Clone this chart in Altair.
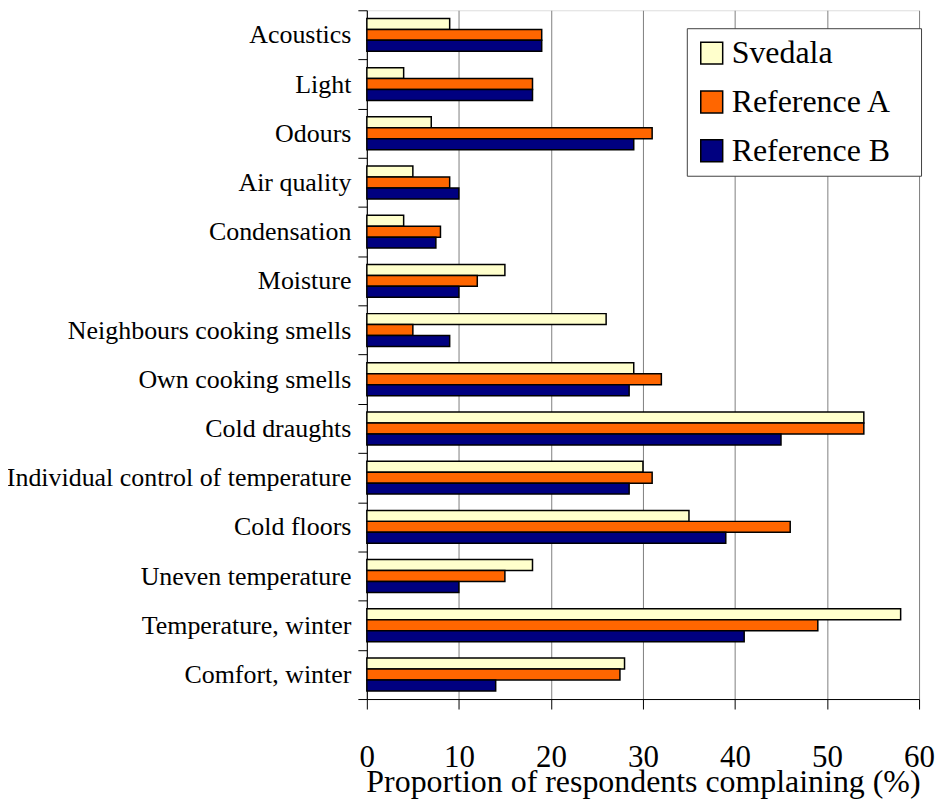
import altair as alt
import pandas as pd

categories = ["Acoustics", "Light", "Odours", "Air quality", "Condensation", "Moisture",
              "Neighbours cooking smells", "Own cooking smells", "Cold draughts",
              "Individual control of temperature", "Cold floors", "Uneven temperature",
              "Temperature, winter", "Comfort, winter"]
series = ["Svedala", "Reference A", "Reference B"]
svedala = [9, 4, 7, 5, 4, 15, 26, 29, 54, 30, 35, 18, 58, 28]
ref_a = [19, 18, 31, 9, 8, 12, 5, 32, 54, 31, 46, 15, 49, 27.5]
ref_b = [19, 18, 29, 10, 7.5, 10, 9, 28.5, 45, 28.5, 39, 10, 41, 14]
colors = ["#FFFFCC", "#FF6600", "#000080"]
x_ticks = [0, 10, 20, 30, 40, 50, 60]

rows = []
for name, vals in zip(series, [svedala, ref_a, ref_b]):
    for c, v in zip(categories, vals):
        rows.append({"category": c, "series": name, "value": v})
df = pd.DataFrame(rows)

FONT = "Liberation Serif"

chart = alt.Chart(df).mark_bar(stroke="black", strokeWidth=1.5).encode(
    y=alt.Y("category:N", sort=categories,
            scale=alt.Scale(paddingInner=0, paddingOuter=0),
            axis=alt.Axis(title=None, labelFont=FONT, labelFontSize=26, labelColor="black",
                          labelPadding=7, tickSize=9, tickColor="black", domainColor="black",
                          tickBand="extent", grid=False, labelLimit=500)),
    yOffset=alt.YOffset("series:N", sort=series,
                        scale=alt.Scale(paddingInner=0, paddingOuter=0.745)),
    x=alt.X("value:Q", scale=alt.Scale(domain=[0, 60], nice=False),
            axis=alt.Axis(title="Proportion of respondents complaining (%)", values=x_ticks,
                          labelFont=FONT, labelFontSize=31, labelColor="black",
                          labelFlush=False,
                          titleFont=FONT, titleFontSize=32, titleFontWeight="normal",
                          titleColor="black", titlePadding=-6,
                          labelPadding=34, tickSize=10, tickColor="black",
                          domainColor="black", grid=True, gridColor="#808080",
                          gridWidth=1)),
    color=alt.Color("series:N", sort=series,
                    scale=alt.Scale(domain=series, range=colors),
                    legend=alt.Legend(title=".", titleOrient="right", titleColor="white",
                                      titleFontSize=10, titlePadding=17,
                                      orient="none", legendX=321, legendY=18,
                                      labelFont=FONT, labelFontSize=32, labelColor="black",
                                      labelLimit=400,
                                      symbolType="square", symbolSize=484,
                                      symbolStrokeColor="black", symbolStrokeWidth=1.5,
                                      symbolOpacity=1,
                                      labelOffset=4, rowPadding=17, padding=9,
                                      strokeColor="#404040", fillColor="white")),
).properties(
    width=554, height=691,
    autosize=alt.AutoSizeParams(type="none"),
    padding={"left": 360, "top": 1, "right": 16, "bottom": 101}
).configure_view(
    stroke="#808080", strokeWidth=1
).configure(
    background="white"
)

chart.save("out.html", embed_options={"renderer": "svg", "actions": False})
